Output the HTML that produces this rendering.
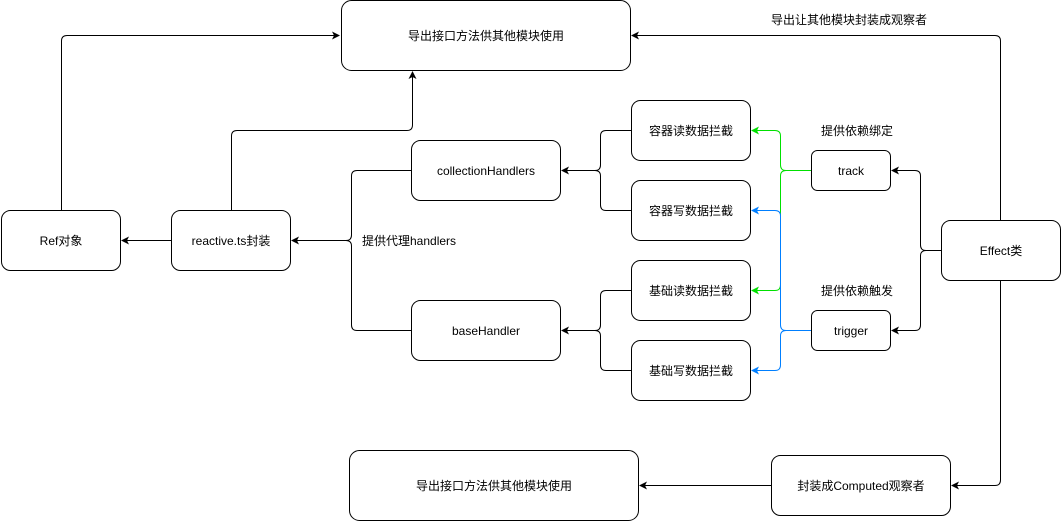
<!DOCTYPE html>
<html><head><meta charset="utf-8"><style>
html,body{margin:0;padding:0;background:#fff;}
svg{display:block;}
text{font-family:"Liberation Sans","Noto Sans CJK SC",sans-serif;font-size:12px;fill:#000;}
</style></head><body>
<svg width="1061" height="521" viewBox="0 0 1061 521" xmlns="http://www.w3.org/2000/svg">
<defs>
<marker id="ab" markerWidth="8" markerHeight="8" refX="7" refY="4" orient="auto" markerUnits="userSpaceOnUse"><path d="M0,0 L8,4 L0,8 L2,4 Z" fill="#000"/></marker>
<marker id="ag" markerWidth="8" markerHeight="8" refX="7" refY="4" orient="auto" markerUnits="userSpaceOnUse"><path d="M0,0 L8,4 L0,8 L2,4 Z" fill="#00e000"/></marker>
<marker id="au" markerWidth="8" markerHeight="8" refX="7" refY="4" orient="auto" markerUnits="userSpaceOnUse"><path d="M0,0 L8,4 L0,8 L2,4 Z" fill="#007fff"/></marker>
</defs>
<g fill="#fff" stroke="#000" stroke-width="1">
<rect x="341.5" y="0.5" width="289" height="70" rx="10"/>
<rect x="1.5" y="210.5" width="119" height="60" rx="9"/>
<rect x="171.5" y="210.5" width="119" height="60" rx="9"/>
<rect x="411.5" y="140.5" width="149" height="60" rx="9"/>
<rect x="411.5" y="300.5" width="149" height="60" rx="9"/>
<rect x="631.5" y="100.5" width="119" height="60" rx="9"/>
<rect x="631.5" y="180.5" width="119" height="60" rx="9"/>
<rect x="631.5" y="260.5" width="119" height="60" rx="9"/>
<rect x="631.5" y="340.5" width="119" height="60" rx="9"/>
<rect x="811.5" y="150.5" width="79" height="40" rx="6"/>
<rect x="811.5" y="310.5" width="79" height="40" rx="6"/>
<rect x="941.5" y="220.5" width="119" height="60" rx="9"/>
<rect x="349.5" y="450.5" width="289" height="70" rx="10"/>
<rect x="771.5" y="455.5" width="179" height="60" rx="9"/>
</g>
<g fill="none" stroke="#000" stroke-width="1">
<path d="M61.5,210 V41 Q61.5,35.5 67,35.5 H339" marker-end="url(#ab)"/>
<path d="M231.5,210 V136 Q231.5,130.5 237,130.5 H407 Q412.5,130.5 412.5,125 V72" marker-end="url(#ab)"/>
<path d="M171,240.5 H122" marker-end="url(#ab)"/>
<path d="M411,170.5 H357 Q351.5,170.5 351.5,176 V235 Q351.5,240.5 346,240.5 H292" marker-end="url(#ab)"/>
<path d="M411,330.5 H357 Q351.5,330.5 351.5,325 V246 Q351.5,240.5 346,240.5"/>
<path d="M631,130.5 H606 Q600.5,130.5 600.5,136 V165 Q600.5,170.5 595,170.5 H562" marker-end="url(#ab)"/>
<path d="M631,210.5 H606 Q600.5,210.5 600.5,205 V176 Q600.5,170.5 595,170.5"/>
<path d="M631,290.5 H606 Q600.5,290.5 600.5,296 V325 Q600.5,330.5 595,330.5 H562" marker-end="url(#ab)"/>
<path d="M631,370.5 H606 Q600.5,370.5 600.5,365 V336 Q600.5,330.5 595,330.5"/>
<path d="M941,250.5 H926 Q920.5,250.5 920.5,245 V176 Q920.5,170.5 915,170.5 H892" marker-end="url(#ab)"/>
<path d="M926,250.5 Q920.5,250.5 920.5,256 V325 Q920.5,330.5 915,330.5 H892" marker-end="url(#ab)"/>
<path d="M1000.5,220 V41 Q1000.5,35.5 995,35.5 H632" marker-end="url(#ab)"/>
<path d="M1000.5,281 V480 Q1000.5,485.5 995,485.5 H952" marker-end="url(#ab)"/>
<path d="M771,485.5 H640" marker-end="url(#ab)"/>
</g>
<g fill="none" stroke="#00e000" stroke-width="1">
<path d="M811,170.5 H786 Q780.5,170.5 780.5,165 V136 Q780.5,130.5 775,130.5 H752" marker-end="url(#ag)"/>
<path d="M786,170.5 Q780.5,170.5 780.5,176 V285 Q780.5,290.5 775,290.5 H752" marker-end="url(#ag)"/>
</g>
<g fill="none" stroke="#007fff" stroke-width="1">
<path d="M811,330.5 H786 Q780.5,330.5 780.5,325 V216 Q780.5,210.5 775,210.5 H752" marker-end="url(#au)"/>
<path d="M786,330.5 Q780.5,330.5 780.5,336 V365 Q780.5,370.5 775,370.5 H752" marker-end="url(#au)"/>
</g>
<g text-anchor="middle">
<text x="486" y="40">导出接口方法供其他模块使用</text>
<text x="61" y="245">Ref对象</text>
<text x="231" y="245">reactive.ts封装</text>
<text x="486" y="175">collectionHandlers</text>
<text x="486" y="335">baseHandler</text>
<text x="691" y="135" font-size="11">容器读数据拦截</text>
<text x="691" y="215" font-size="11">容器写数据拦截</text>
<text x="691" y="295" font-size="11">基础读数据拦截</text>
<text x="691" y="375" font-size="11">基础写数据拦截</text>
<text x="851" y="175">track</text>
<text x="851" y="335">trigger</text>
<text x="1001" y="255">Effect类</text>
<text x="494" y="490">导出接口方法供其他模块使用</text>
<text x="861" y="490">封装成Computed观察者</text>
<text x="857" y="135">提供依赖绑定</text>
<text x="857" y="295">提供依赖触发</text>
<text x="849" y="24">导出让其他模块封装成观察者</text>
</g>
<text x="362" y="245">提供代理handlers</text>
</svg>
</body></html>
